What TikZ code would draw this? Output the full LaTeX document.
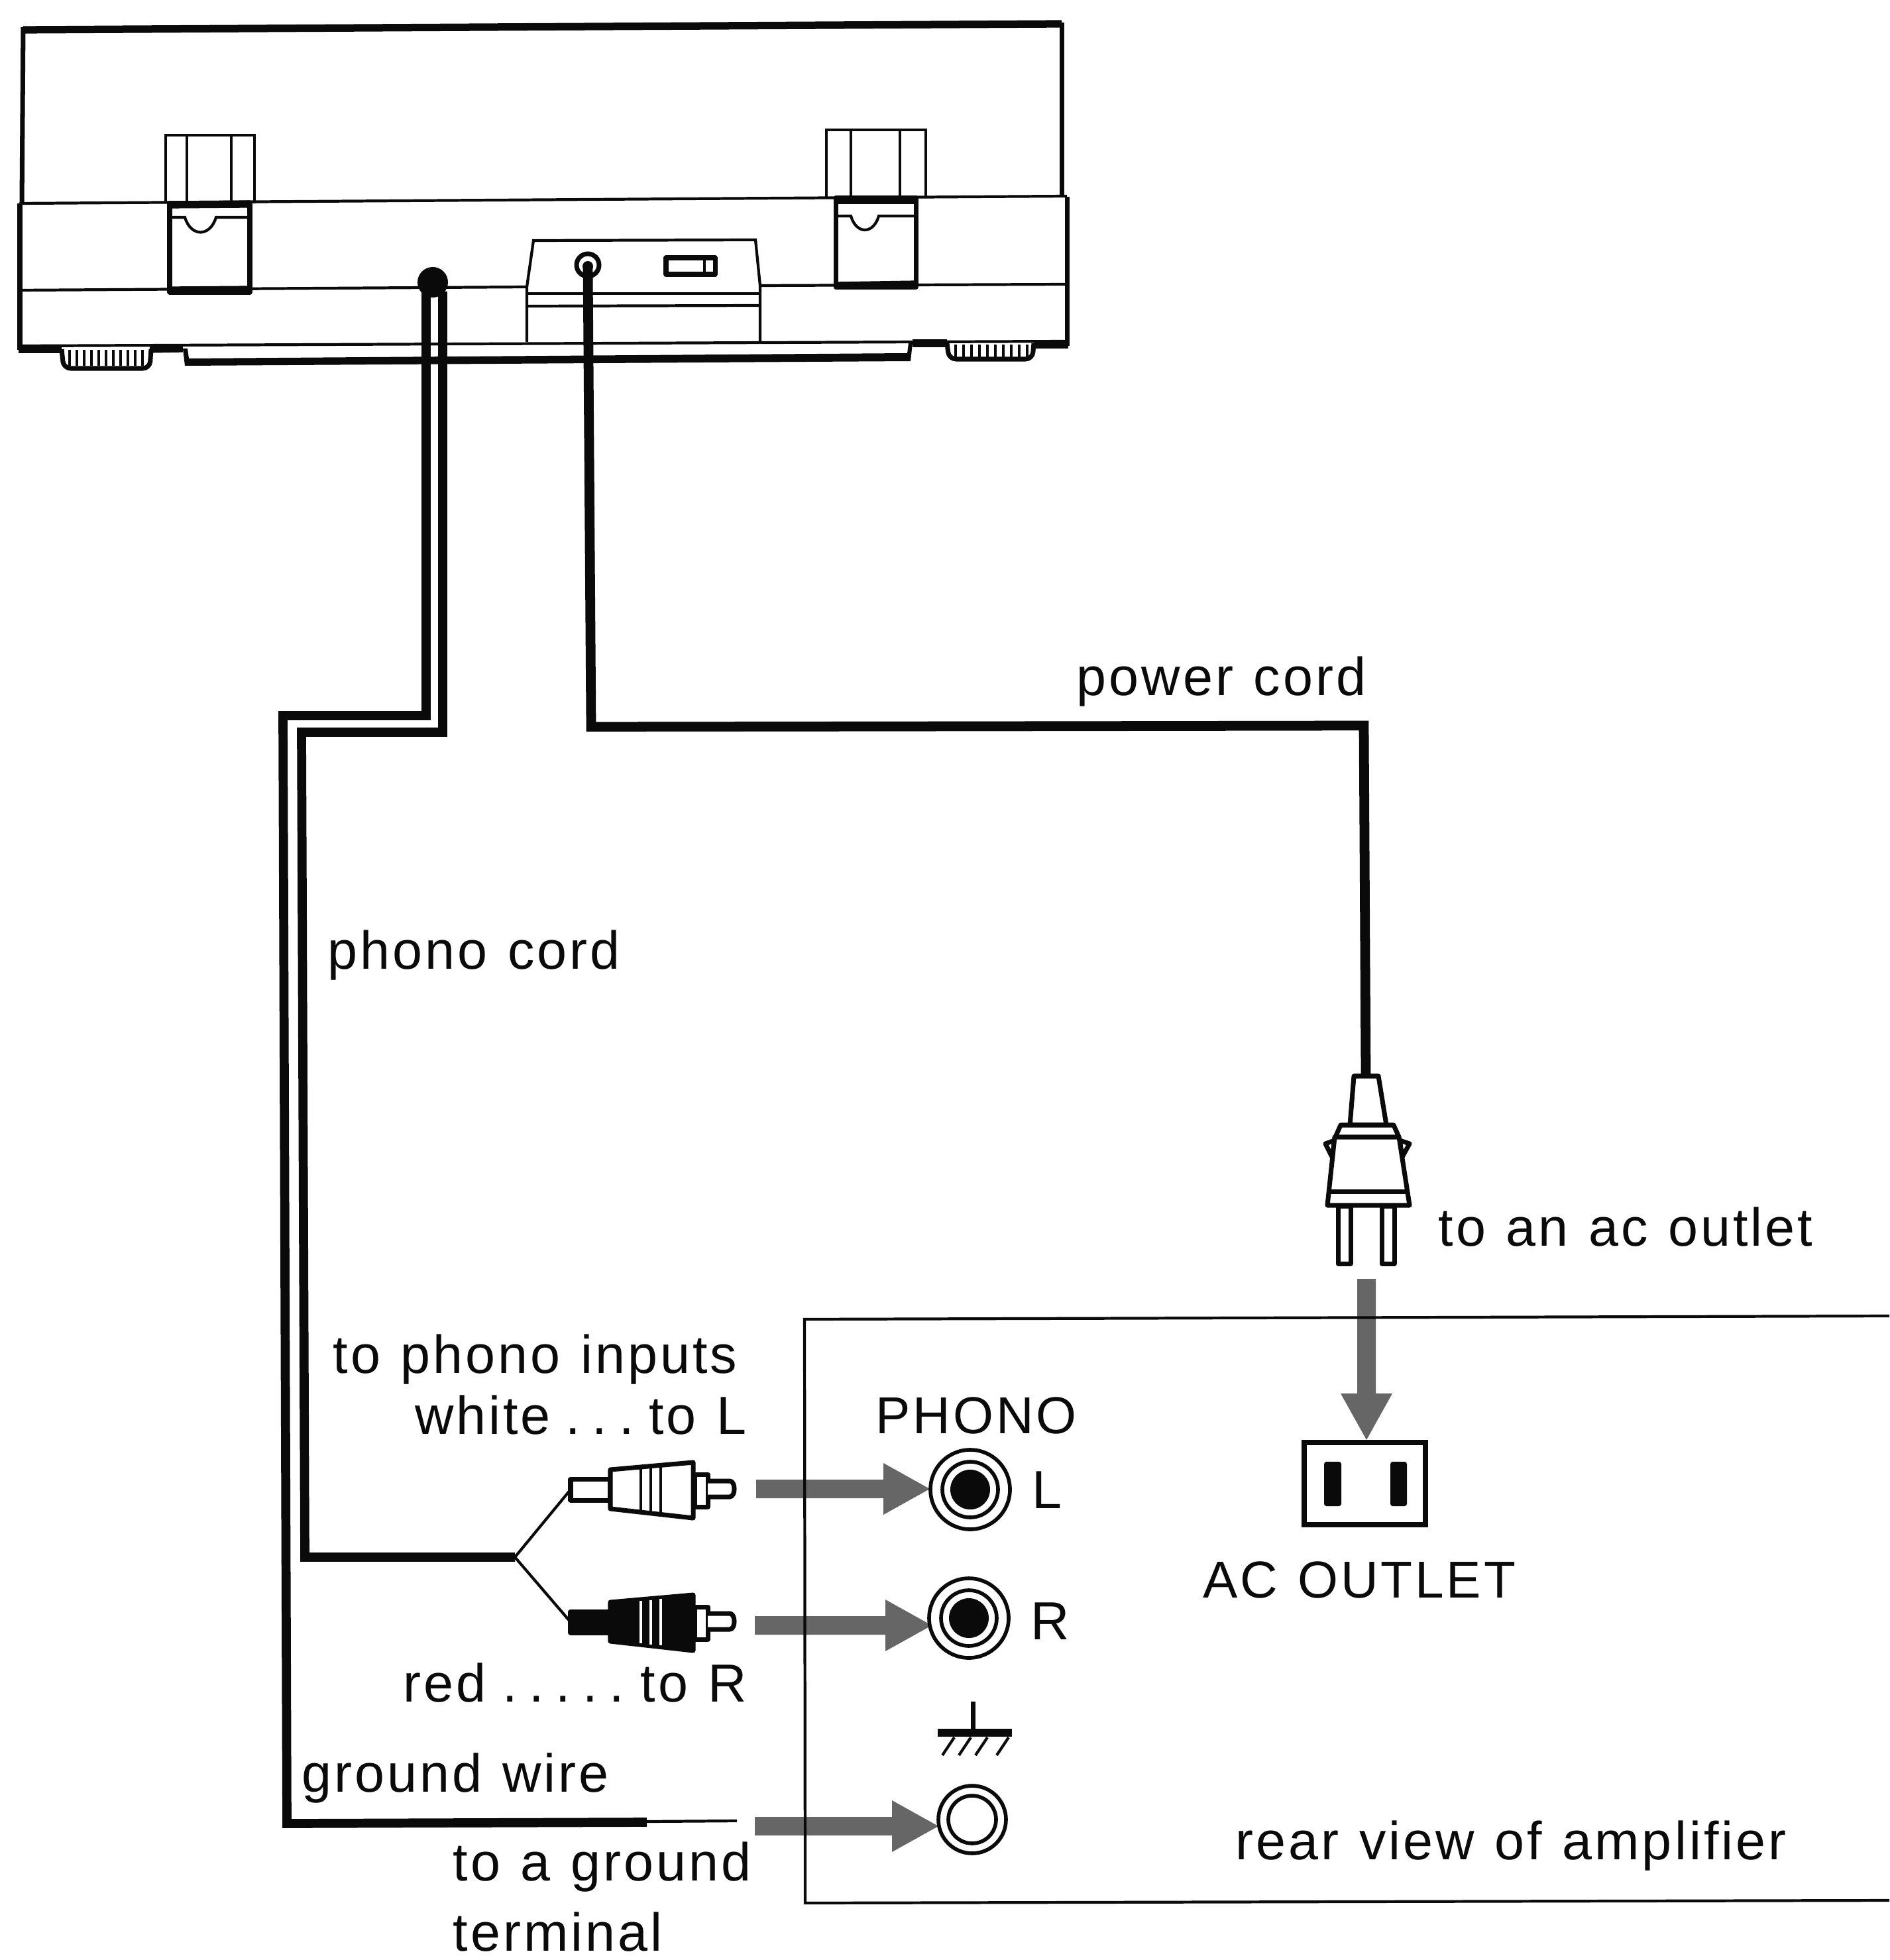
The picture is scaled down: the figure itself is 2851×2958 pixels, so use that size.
\documentclass[tikz,border=0pt]{standalone}
\usepackage{fontspec}
\setmainfont{Liberation Sans}[LetterSpace=5,WordSpace=1.15]
\usepackage{xcolor}
\usepackage{tikz}
\usetikzlibrary{calc}
\definecolor{ink}{HTML}{0A0A0A}
\definecolor{arrowgray}{HTML}{666666}
\tikzset{
  body/.style={draw=ink, line width=2pt, line join=round},
  lid/.style={draw=ink, line width=3.2pt},
  seam/.style={draw=ink, line width=1.2pt},
  fine/.style={draw=ink, line width=1pt},
  cord/.style={draw=ink, line width=3.9pt, line join=miter},
  wire/.style={draw=ink, line width=1.2pt},
  garrow/.style={fill=arrowgray, draw=none},
  labm/.style={text=ink, font=\fontsize{23}{27}\selectfont, inner sep=0pt, anchor=base west},
  labr/.style={labm, anchor=base east},
  labc/.style={labm, font=\fontsize{22.3}{27}\selectfont}
}
\newcommand{\dotgap}{\hspace{0.11em}.\hspace{0.11em}}
\newcommand{\GrayArrow}[3]{%
  \fill[garrow, shift={(#1)}, rotate=#2] (0,0) -- (-70,-39) -- (-70,-14) -- (-#3,-14)
    -- (-#3,14) -- (-70,14) -- (-70,39) -- cycle;
}
\newcommand{\RcaPlug}[3]{%
  \begin{scope}[shift={(#1)}]
    \draw[body, fill=#2] (0,-16) rectangle (60,16);
    \draw[body, fill=#2] (60,-30) -- (185,-41) -- (185,43) -- (60,29) -- cycle;
    \foreach \bandx in {106,121,136} {\draw[draw=#3, line width=1.2pt] (\bandx,{-30-(\bandx-60)*0.09+2}) -- (\bandx,{29+(\bandx-60)*0.11-2});}
    \draw[body, fill=white] (187,-23) rectangle (207,26);
    \draw[body, fill=white] (207,-13) -- (240,-13) to[out=0,in=0] (240,11) -- (207,11);
  \end{scope}
}
\newcommand{\PhonoJack}[1]{%
  \draw[seam, line width=1.6pt] (#1) circle (60);
  \draw[seam, line width=1.6pt] (#1) circle (42);
  \fill[ink] (#1) circle (30);
}
\begin{document}
\begin{tikzpicture}[x=0.01cm,y=-0.01cm]
  \useasboundingbox (0,0) rectangle (2851,2958);

  \coordinate (knob) at (653,426);
  \coordinate (acin) at (887,400);
  \coordinate (fork) at (777,2350);
  \coordinate (plugL) at (861,2248);
  \coordinate (plugR) at (861,2448);
  \coordinate (jackL) at (1464,2248);
  \coordinate (jackR) at (1462,2442);
  \coordinate (jackG) at (1467,2746);
  \coordinate (plugtop) at (2061,1621);

  % turntable
  \draw[lid] (35,45) -- (1602,36);
  \draw[body] (35,41) -- (33,307);
  \draw[body] (1602,34) -- (1602,297);
  \draw[body] (30,307) -- (30,528);
  \draw[body] (1610,297) -- (1610,522);
  \draw[seam] (30,307) -- (1610,296);
  \draw[seam] (30,438) -- (795,433);
  \draw[seam] (1147,431) -- (1610,429);
  \draw[seam] (30,522) -- (1610,515);
  \draw[lid] (28,527) -- (93,527);
  \draw[lid] (226,527) -- (276,526);
  \draw[lid] (1377,518) -- (1429,518);
  \draw[lid] (1560,520) -- (1612,520);
  \draw[body, rounded corners=3pt] (93,527) -- (96,556) -- (226,556) -- (228,527);
  \draw[body, rounded corners=3pt] (1429,518) -- (1432,542) -- (1558,542) -- (1560,518);
  \foreach \ribx in {105,116,...,215} {\draw[fine] (\ribx,528) -- (\ribx,552);}
  \foreach \ribx in {1442,1454,...,1550} {\draw[fine] (\ribx,520) -- (\ribx,539);}
  \fill[ink] (276,526) -- (279,552) -- (1374,545) -- (1377,518) -- (1371,518) -- (1369,533) -- (285,541) -- (283,526) -- cycle;

  % hinges
  \draw[fine] (250,307) -- (250,204) -- (384,204) -- (384,307);
  \draw[fine] (282,204) -- (282,307);
  \draw[fine] (349,204) -- (349,307);
  \draw[body, fill=white] (256,307) rectangle (377,441);
  \draw[lid] (256,309) -- (377,308);
  \draw[lid] (257,438) -- (377,437);
  \draw[seam] (258,328) -- (279,328) .. controls (288,358) and (317,358) .. (326,328) -- (375,328);
  \draw[fine] (1247,299) -- (1247,196) -- (1397,196) -- (1397,297);
  \draw[fine] (1284,196) -- (1284,299);
  \draw[fine] (1358,196) -- (1358,299);
  \draw[body, fill=white] (1261,299) rectangle (1382,433);
  \draw[lid] (1261,302) -- (1382,302);
  \draw[lid] (1261,431) -- (1382,429);
  \draw[seam] (1263,326) -- (1284,326) .. controls (1292,354) and (1318,354) .. (1326,326) -- (1380,326);

  % switch panel
  \draw[seam] (795,516) -- (795,433) -- (805,363) -- (1140,362) -- (1147,431) -- (1147,516);
  \draw[seam] (795,443) -- (1147,443);
  \draw[seam] (795,462) -- (1147,461);
  \draw[body] (1005,389) rectangle (1079,414);
  \draw[fine] (1063,389) -- (1063,414);
  \draw[body] (acin) circle (17);
  \fill[ink] (acin) ++(0,2) circle (8);

  % cords
  \draw[cord] (643,440) -- (643,1080) -- (427,1080) -- (433,2752) -- (976,2750);
  \draw[cord] (668,440) -- (668,1105) -- (455,1105) -- (460,2350) -- (fork);
  \fill[ink] (knob) circle (23);
  \draw[wire] (976,2749) -- (1112,2748);
  \draw[cord, line width=4.2pt] (acin) -- (892,1097) -- (2058,1095) -- (plugtop);
  \draw[wire] (fork) -- (plugL);
  \draw[wire] (fork) -- (plugR);

  % phono plugs
  \RcaPlug{plugL}{white}{ink}
  \RcaPlug{plugR}{ink}{white}

  % mains plug
  \draw[body, fill=white] (2043,1624) -- (2080,1624) -- (2092,1698) -- (2037,1698) -- cycle;
  \draw[body, fill=white] (2000,1726) -- (2014,1721) -- (2010,1746) -- cycle;
  \draw[body, fill=white] (2127,1726) -- (2112,1721) -- (2116,1746) -- cycle;
  \draw[body, fill=white] (2015,1716) -- (2023,1698) -- (2103,1698) -- (2111,1716) -- cycle;
  \draw[body, fill=white] (2014,1716) -- (2111,1716) -- (2127,1819) -- (2003,1819) -- cycle;
  \draw[body] (2008,1798) -- (2123,1798);
  \draw[body, fill=white] (2019,1820) rectangle (2038,1907);
  \draw[body, fill=white] (2085,1820) rectangle (2104,1907);

  % arrows
  \GrayArrow{1403,2247}{0}{262}
  \GrayArrow{1406,2453}{0}{267}
  \GrayArrow{1416,2756}{0}{277}
  \GrayArrow{2062,2173}{-90}{243}

  % amplifier
  \draw[wire] (2851,1986) -- (1214,1991) -- (1215,2872) -- (2851,2868);
  \PhonoJack{jackL}
  \PhonoJack{jackR}
  \draw[seam, line width=1.6pt] (jackG) circle (51);
  \draw[seam, line width=1.6pt] (jackG) circle (36);
  \draw[body] (1468,2568) -- (1468,2614);
  \draw[lid] (1415,2615) -- (1527,2615);
  \foreach \hatchx in {1440,1465,1490,1522} {\draw[seam] (\hatchx,2622) -- ++(-18,27);}
  \draw[draw=ink, line width=2.3pt] (1968,2177) rectangle (2151,2301);
  \fill[ink, rounded corners=1pt] (1998,2206) rectangle (2024,2273);
  \fill[ink, rounded corners=1pt] (2098,2206) rectangle (2123,2273);

  % labels
  \node[labr] (powerlab) at (2062,1049) {power cord};
  \node[labm] (phonolab) at (494,1462) {phono cord};
  \node[labm] (outletlab) at (2170,1880) {to an ac outlet};
  \node[labr] (inputslab) at (1113,2072) {to phono inputs};
  \node[labr] (whitelab) at (1127,2164) {white\hspace{0.17em}\dotgap\dotgap\dotgap\hspace{0.17em}to L};
  \node[labr] (redlab) at (1128,2568) {red\hspace{0.2em}\dotgap\dotgap\dotgap\dotgap\dotgap\hspace{0.2em}to R};
  \node[labm] (groundlab) at (455,2704) {ground wire};
  \node[labm] (toground) at (683,2838) {to a ground};
  \node[labm] (termlab) at (683,2944) {terminal};
  \node[labc] (phonohead) at (1321,2163) {PHONO};
  \node[labm] (llab) at (1557,2276) {L};
  \node[labm] (rlab) at (1555,2474) {R};
  \node[labc] (aclab) at (1815,2411) {AC OUTLET};
  \node[labm] (rearlab) at (1864,2806) {rear view of amplifier};
\end{tikzpicture}
\end{document}
